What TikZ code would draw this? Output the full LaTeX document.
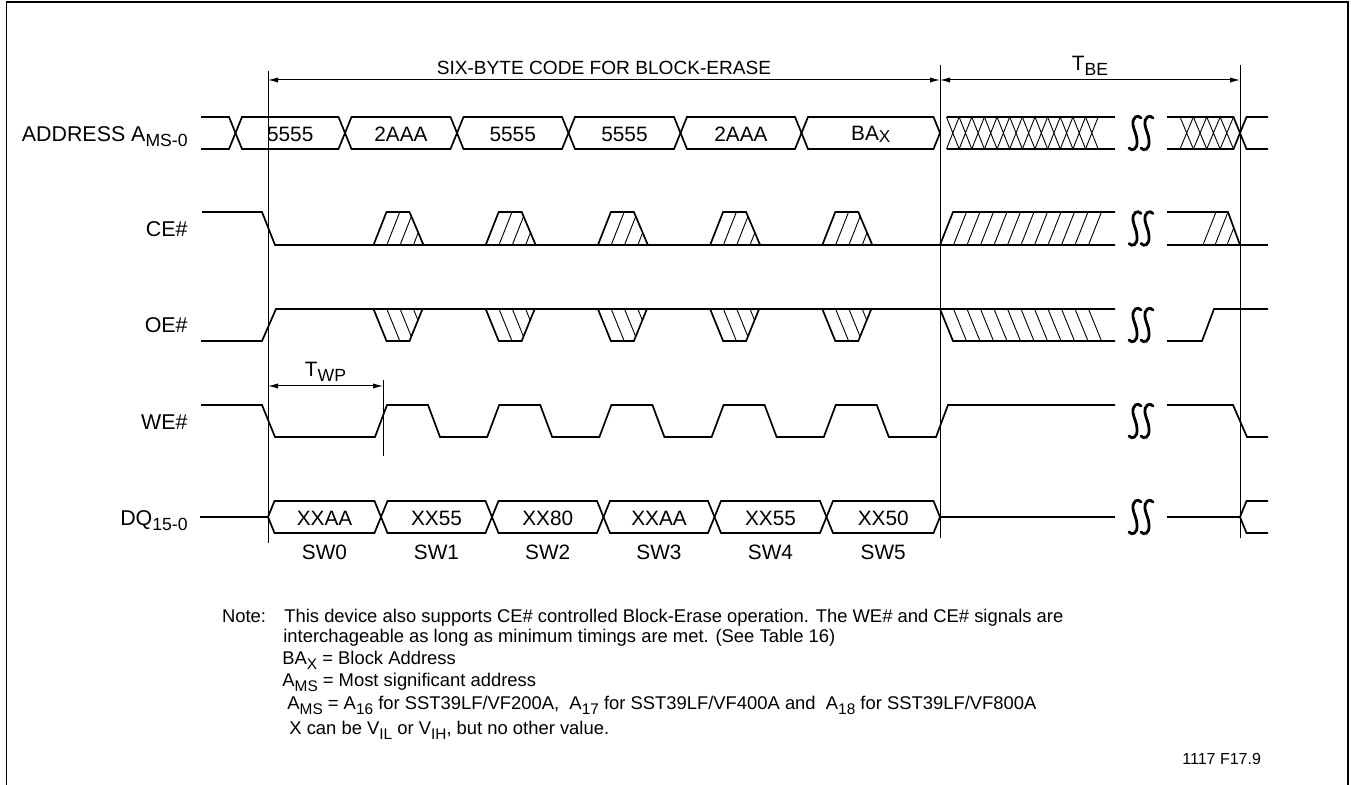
\documentclass[tikz,border=0pt]{standalone}
\usepackage{fontspec}
\setmainfont{Liberation Sans}
\usetikzlibrary{arrows.meta}
\newcommand{\lowsub}[1]{\raisebox{-2.6pt}{\fontsize{8.8}{9}\selectfont #1}}
\newcommand{\notesub}[1]{\raisebox{-2.3pt}{\fontsize{7.7}{8}\selectfont #1}}
\newcommand{\bax}{BA\raisebox{-1pt}{\fontsize{8.6}{9}\selectfont X}}
\tikzset{
  sig/.style={line width=0.85pt},
  hatch/.style={line width=0.45pt},
  guide/.style={line width=0.5pt},
  dim/.style={line width=0.5pt,{Latex[length=5pt,width=2.6pt]}-{Latex[length=5pt,width=2.6pt]}},
  txt/.style={inner sep=0pt,font=\fontsize{10.4}{12}\selectfont},
  lbl/.style={txt,anchor=base east,font=\fontsize{10.7}{12}\selectfont},
  note/.style={inner sep=0pt,anchor=base west,font=\fontsize{9.2}{11}\selectfont},
  squig/.style={line width=1.4pt,line cap=round}
}

\begin{document}
\begin{tikzpicture}[x=0.5pt,y=-0.5pt]
    \useasboundingbox (0,0) rectangle (1351,785);
    \draw[line width=0.85pt] (6.5,790) -- (6.5,1.7) -- (1348,1.7) -- (1348,790);

    \node[lbl] (addr) at (188,141.5) {ADDRESS A\lowsub{MS-0}};
    \node[lbl] (ce) at (188,237) {CE\#};
    \node[lbl] (oe) at (188,333) {OE\#};
    \node[lbl] (we) at (188,429.5) {WE\#};
    \node[lbl] (dq) at (188,525.5) {DQ\lowsub{15-0}};

    \coordinate (s0) at (268,80);
    \coordinate (s1) at (940,80);
    \coordinate (s2) at (1240,80);
    \coordinate (w0) at (268,386);
    \coordinate (w1) at (383,386);
    \draw[guide] (268,71) -- (268,543);
    \draw[guide] (940,65) -- (940,538);
    \draw[guide] (1240,65) -- (1240,538);
    \draw[guide] (383,380) -- (383,456);
    \draw[dim] (s0) -- node[txt,above=2.5pt,font=\fontsize{9.55}{12}\selectfont] (six) {SIX-BYTE CODE FOR BLOCK-ERASE} (s1);
    \draw[dim] (s1) -- node[txt,above=2pt] (tbe) {T\lowsub{BE}} (s2);
    \draw[dim] (w0) -- node[txt,above=2pt] (twp) {T\lowsub{WP}} (w1);

    \draw[sig] (201,117) -- (229,117) -- (235.5,133) -- (229,149) -- (201,149);
    \foreach \a/\b/\v [count=\i from 0] in {235.5/345/5555,345/457/2AAA,457/568.5/5555,568.5/680.5/5555,680.5/801.5/2AAA,801.5/940/\bax} {
      \draw[sig] (\a,133) -- (\a+6.5,117) -- (\b-6.5,117) -- (\b,133) -- (\b-6.5,149) -- (\a+6.5,149) -- cycle;
      \node[txt] (a\i) at ({(\a+\b)/2},134) {\v};
    }
    \draw[sig] (946.5,117) -- (1115,117);
    \draw[sig] (946.5,149) -- (1115,149);
    \foreach \j in {0,...,11}
      \draw[hatch] (946.5+12.64*\j,117) -- ++(12.64,32) ++(-12.64,0) -- ++(12.64,-32);
    \draw[sig] (1167,117) -- (1233.5,117) -- (1246.5,149) -- (1268,149);
    \draw[sig] (1167,149) -- (1233.5,149) -- (1246.5,117) -- (1268,117);
    \foreach \j in {0,...,3}
      \draw[hatch] (1180+13.375*\j,117) -- ++(13.375,32) ++(-13.375,0) -- ++(13.375,-32);

    \draw[sig] (202,212) -- (262,212) -- (275,245) -- (1115,245);
    \foreach \k in {0,...,4} {
      \begin{scope}
        \clip (373.5+112.2*\k,245) -- ++(13,-33) -- ++(23,0) -- ++(14,33) -- cycle;
        \foreach \j in {1,2,3} \draw[hatch] (373.5+112.2*\k+13.3*\j,245) -- ++(13,-33);
      \end{scope}
      \draw[sig] (373.5+112.2*\k,245) -- ++(13,-33) -- ++(23,0) -- ++(14,33);
    }
    \draw[sig] (940,245) -- (953,212) -- (1115,212);
    \foreach \j in {1,...,11} \draw[hatch] (940+13.5*\j,245) -- ++(13,-33);
    \draw[sig] (1167,212) -- (1228,212) -- (1240,245);
    \draw[sig] (1167,245) -- (1268,245);
    \begin{scope}
      \clip (1167,245) -- (1167,212) -- (1228,212) -- (1240,245) -- cycle;
      \foreach \x in {1203,1215,1227} \draw[hatch] (\x,245) -- ++(13,-33);
    \end{scope}

    \draw[sig] (201,341) -- (262,341) -- (276,309) -- (1115,309);
    \foreach \k in {0,...,4} {
      \begin{scope}
        \clip (373.5+112.2*\k,309) -- ++(13,32) -- ++(23,0) -- ++(13,-32) -- cycle;
        \foreach \j in {1,2,3} \draw[hatch] (373.5+112.2*\k+13.3*\j,309) -- ++(13,32);
      \end{scope}
      \draw[sig] (373.5+112.2*\k,309) -- ++(13,32) -- ++(23,0) -- ++(13,-32);
    }
    \draw[sig] (940,309) -- (953,341) -- (1115,341);
    \foreach \j in {1,...,11} \draw[hatch] (940+13.5*\j,309) -- ++(13,32);
    \draw[sig] (1167,341) -- (1202,341) -- (1214,309) -- (1268,309);

    \draw[sig] (201,405) -- (262,405) -- (275,437) -- (375,437)
      \foreach \k in {0,...,4} { -- ++(12,-32) -- ++(41,0) -- ++(12,32) -- ++(47.2,0) }
      -- ++(12,-32) -- (1115,405);
    \draw[sig] (1167,405) -- (1233,405) -- (1247,437) -- (1268,437);

    \draw[sig] (200,517) -- (268,517);
    \foreach \a/\b/\v [count=\i from 0] in {268/381/XXAA,381/492/XX55,492/603.5/XX80,603.5/714.5/XXAA,714.5/826.5/XX55,826.5/940/XX50} {
      \draw[sig] (\a,517) -- (\a+6.5,501) -- (\b-6.5,501) -- (\b,517) -- (\b-6.5,533) -- (\a+6.5,533) -- cycle;
      \node[txt] (d\i) at ({(\a+\b)/2},518) {\v};
      \node[txt] (sw\i) at ({(\a+\b)/2},552) {SW\i};
    }
    \draw[sig] (940,517) -- (1115,517);
    \draw[sig] (1167,517) -- (1240,517) -- (1246.5,501) -- (1268,501);
    \draw[sig] (1240,517) -- (1246.5,533) -- (1268,533);

    \foreach \y in {133,228.5,325,421,517}
      \foreach \x in {1135,1147}
        \draw[squig] (\x+6,\y-15) .. controls (\x+3,\y-19) and (\x-3,\y-16) .. (\x-2,\y-8)
          .. controls (\x-1,\y-2) and (\x+2,\y+2) .. (\x+2,\y+8)
          .. controls (\x+3,\y+16) and (\x-3,\y+19) .. (\x-6,\y+15);

    \node[note] (nt) at (221.7,622.7) {Note:};
    \node[note] (n1) at (284,622.7) {This device also supports CE\# controlled Block-Erase operation. The WE\# and CE\# signals are};
    \node[note] (n2) at (283,642.7) {interchageable as long as minimum timings are met. (See Table 16)};
    \node[note] (n3) at (282,665) {BA\notesub{X} = Block Address};
    \node[note] (n4) at (282,687) {A\notesub{MS} = Most significant address};
    \node[note] (n5) at (287,710) {A\notesub{MS} = A\notesub{16} for SST39LF/VF200A,\ \ A\notesub{17} for SST39LF/VF400A and\ \ A\notesub{18} for SST39LF/VF800A};
    \node[note] (n6) at (289,735) {X can be V\notesub{IL} or V\notesub{IH}, but no other value.};
    \node[note,font=\fontsize{8}{10}\selectfont] (fig) at (1182,765) {1117 F17.9};
\end{tikzpicture}
\end{document}
